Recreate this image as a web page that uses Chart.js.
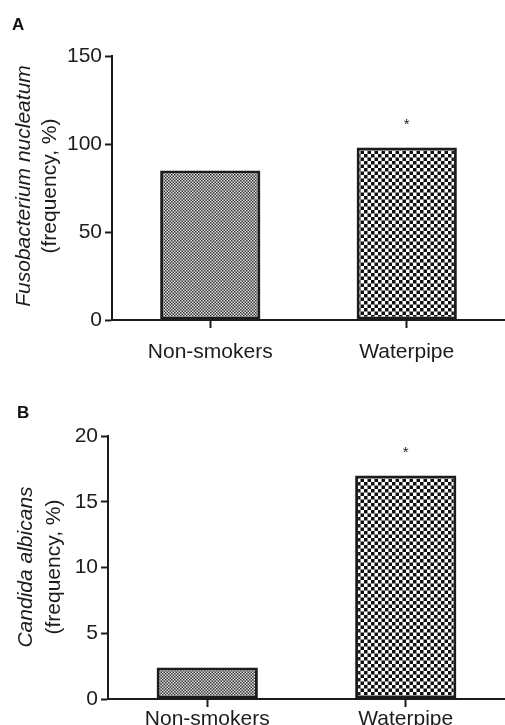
<!DOCTYPE html>
<html>
<head>
<meta charset="utf-8">
<script src="https://cdn.jsdelivr.net/npm/chart.js@4.4.1/dist/chart.umd.min.js"></script>
<style>
  html, body { margin: 0; padding: 0; background: #fff; }
  .panel { position: absolute; left: 0; width: 505px; }
  #panelA { top: 0; height: 370px; }
  #panelB { top: 370px; height: 355px; }
  .tag { position: absolute; font: bold 17px "Liberation Sans", Arial, sans-serif; color: #111; }
</style>
</head>
<body>
<div class="panel" id="panelA">
  <div class="tag" style="left:12px;top:15px;">A</div>
  <canvas id="chartA" width="505" height="370"></canvas>
</div>
<div class="panel" id="panelB">
  <div class="tag" style="left:17px;top:33px;">B</div>
  <canvas id="chartB" width="505" height="355"></canvas>
</div>
<script>
// data
var groups = ['Non-smokers', 'Waterpipe'];
var fusoValues = [85, 98];
var candidaValues = [2.4, 17];
var fusoTicks = [0, 50, 100, 150];
var candidaTicks = [0, 5, 10, 15, 20];
var signif = ['', '*'];

var FONT = '"Liberation Sans", Arial, sans-serif';
var INK = '#1c1c1c';

// checkerboard fills, drawn at 2x and scaled down so cells can be half-pixels
function checker(cell, dark, light) {
  var c = document.createElement('canvas');
  var big = cell * 2;
  c.width = big * 2;
  c.height = big * 2;
  var g = c.getContext('2d');
  g.fillStyle = light;
  g.fillRect(0, 0, c.width, c.height);
  g.fillStyle = dark;
  g.fillRect(0, 0, big, big);
  g.fillRect(big, big, big, big);
  var p = g.createPattern(c, 'repeat');
  p.setTransform(new DOMMatrix().scale(0.5));
  return p;
}

var starPlugin = {
  id: 'stars',
  afterDatasetsDraw: function(chart) {
    var meta = chart.getDatasetMeta(0);
    var ctx = chart.ctx;
    ctx.save();
    ctx.fillStyle = INK;
    ctx.font = '15px ' + FONT;
    ctx.textAlign = 'center';
    ctx.textBaseline = 'middle';
    meta.data.forEach(function(bar, i) {
      if (signif[i]) ctx.fillText(signif[i], bar.x, bar.y - 23);
    });
    ctx.restore();
  }
};

var yTitlePlugin = {
  id: 'yTitle',
  afterDraw: function(chart, args, opts) {
    var ctx = chart.ctx;
    ctx.save();
    ctx.fillStyle = INK;
    ctx.textAlign = 'center';
    ctx.textBaseline = 'middle';
    opts.lines.forEach(function(line) {
      ctx.save();
      ctx.translate(line.x, opts.cy);
      ctx.rotate(-Math.PI / 2);
      ctx.font = (line.italic ? 'italic ' : '') + '21px ' + FONT;
      ctx.fillText(line.text, 0, 0);
      ctx.restore();
    });
    ctx.restore();
  }
};

function makeChart(id, values, tickVals, yMax, yWidth, topPad, xHeight, xPad, title) {
  var ctx = document.getElementById(id).getContext('2d');
  return new Chart(ctx, {
    type: 'bar',
    data: {
      labels: groups,
      datasets: [{
        data: values,
        backgroundColor: [checker(1.5, '#333', '#e4e4e4'), checker(3.5, '#111', '#fff')],
        borderColor: INK,
        borderWidth: 3,
        borderSkipped: false,
        barPercentage: 0.51,
        categoryPercentage: 1
      }]
    },
    options: {
      responsive: false,
      devicePixelRatio: 1,
      animation: false,
      layout: { padding: { top: topPad, right: 0, left: 0, bottom: 0 } },
      plugins: {
        legend: { display: false },
        tooltip: { enabled: false },
        yTitle: title
      },
      scales: {
        x: {
          offset: true,
          grid: { offset: false, drawOnChartArea: false, tickLength: 8, tickColor: INK, tickWidth: 2 },
          border: { color: INK, width: 2 },
          ticks: { color: INK, padding: xPad, font: { family: FONT, size: 21 } },
          afterFit: function(s) { s.height = xHeight; }
        },
        y: {
          min: 0,
          max: yMax,
          afterBuildTicks: function(s) { s.ticks = tickVals.map(function(v) { return { value: v }; }); },
          grid: { drawOnChartArea: false, tickLength: 7, tickColor: INK, tickWidth: 2 },
          border: { color: INK, width: 2 },
          ticks: { color: INK, padding: 3, font: { family: FONT, size: 21 } },
          afterFit: function(s) { s.width = yWidth; }
        }
      }
    },
    plugins: [starPlugin, yTitlePlugin]
  });
}

makeChart('chartA', fusoValues, fusoTicks, 150, 112, 56, 50, 12, {
  cy: 186,
  lines: [
    { text: 'Fusobacterium nucleatum', italic: true, x: 24 },
    { text: '(frequency, %)', italic: false, x: 50 }
  ]
});

makeChart('chartB', candidaValues, candidaTicks, 20, 108, 66, 26, 0, {
  cy: 197,
  lines: [
    { text: 'Candida albicans', italic: true, x: 26 },
    { text: '(frequency, %)', italic: false, x: 54 }
  ]
});
</script>
</body>
</html>
